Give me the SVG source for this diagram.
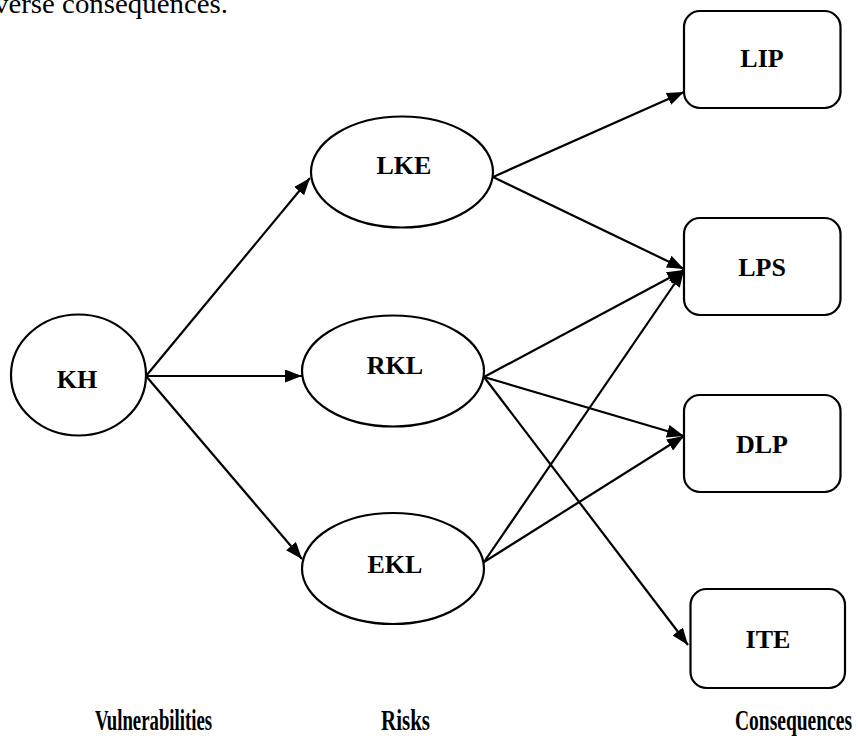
<svg xmlns="http://www.w3.org/2000/svg" width="858" height="740" viewBox="0 0 858 740">
<style>
.n{fill:#fff;stroke:#000;stroke-width:2.2}
.t{font-family:"Liberation Serif","Times New Roman",serif;font-weight:bold;font-size:26px;text-anchor:middle;fill:#000}
.c line{stroke:#000;stroke-width:2.2;marker-end:url(#ah)}
.lab{font-family:"Liberation Serif","Times New Roman",serif;font-weight:bold;font-size:29px;fill:#000}
</style>
<defs>
<marker id="ah" viewBox="0 0 17 13" refX="17" refY="6.5" markerWidth="17" markerHeight="13" markerUnits="userSpaceOnUse" orient="auto">
<path d="M0,0 L17,6.5 L0,13 z" fill="#000"/>
</marker>
</defs>
<rect width="858" height="740" fill="#fff"/>
<text x="-6" y="13" font-family="Liberation Serif,Times New Roman,serif" font-size="28" textLength="234" lengthAdjust="spacingAndGlyphs">verse consequences.</text>
<g class="c" id="connectors">
<line x1="146" y1="376" x2="310" y2="178"/>
<line x1="146" y1="376" x2="302" y2="376"/>
<line x1="146" y1="376" x2="302" y2="559"/>
<line x1="493" y1="177" x2="684" y2="92"/>
<line x1="493" y1="177" x2="684" y2="269"/>
<line x1="484" y1="377" x2="684" y2="270"/>
<line x1="484" y1="562" x2="684" y2="270"/>
<line x1="484" y1="377" x2="684" y2="436"/>
<line x1="484" y1="562" x2="684" y2="436"/>
<line x1="484" y1="377" x2="688" y2="645"/>
</g>
<g id="KH"><ellipse class="n" cx="78.5" cy="375" rx="67.5" ry="60.5"/><text class="t" x="77" y="388">KH</text></g>
<g id="LKE"><ellipse class="n" cx="402" cy="172" rx="91" ry="55.5"/><text class="t" x="404" y="174">LKE</text></g>
<g id="RKL"><ellipse class="n" cx="393" cy="371" rx="91" ry="55.5"/><text class="t" x="395" y="374">RKL</text></g>
<g id="EKL"><ellipse class="n" cx="393" cy="568.5" rx="91" ry="55.5"/><text class="t" x="395" y="572.5">EKL</text></g>
<g id="LIP"><rect class="n" x="684" y="11" width="156.5" height="97" rx="16"/><text class="t" x="762" y="67">LIP</text></g>
<g id="LPS"><rect class="n" x="684" y="218" width="156.5" height="97" rx="16"/><text class="t" x="762" y="276">LPS</text></g>
<g id="DLP"><rect class="n" x="684" y="395" width="156.5" height="97" rx="16"/><text class="t" x="762" y="453">DLP</text></g>
<g id="ITE"><rect class="n" x="690.5" y="589" width="154.5" height="99" rx="16"/><text class="t" x="768" y="648">ITE</text></g>
<text class="lab" x="95" y="730" textLength="117" lengthAdjust="spacingAndGlyphs">Vulnerabilities</text>
<text class="lab" x="381" y="730" textLength="49" lengthAdjust="spacingAndGlyphs">Risks</text>
<text class="lab" x="735" y="730" textLength="117" lengthAdjust="spacingAndGlyphs">Consequences</text>
</svg>
